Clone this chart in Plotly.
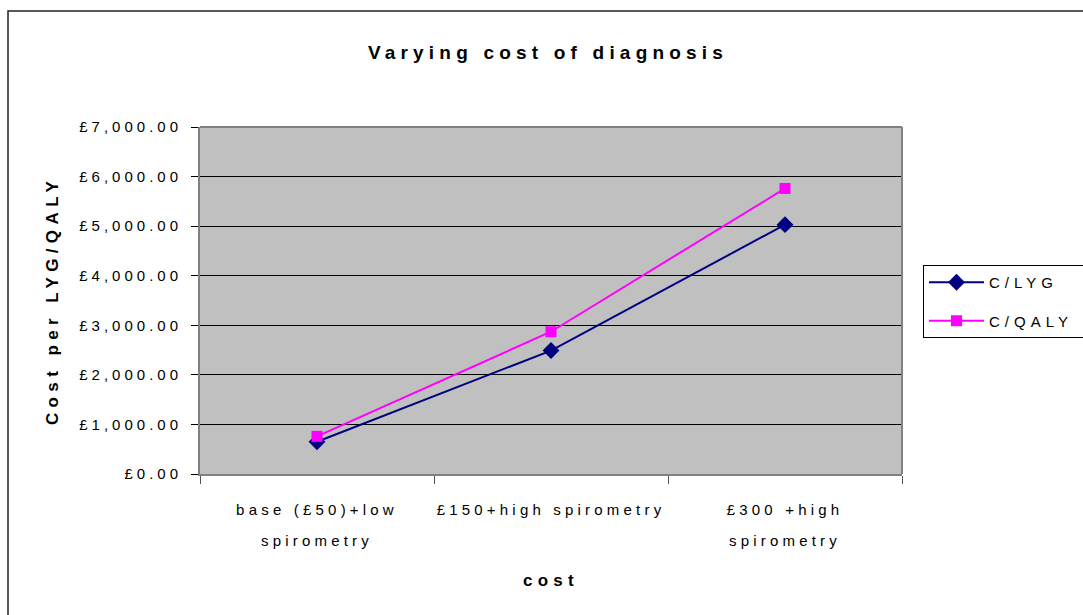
import plotly.graph_objects as go

categories = ["base (£50)+low<br>spirometry", "£150+high spirometry", "£300 +high<br>spirometry"]
c_lyg = [650, 2490, 5030]
c_qaly = [760, 2870, 5760]
y_ticks = [0, 1000, 2000, 3000, 4000, 5000, 6000, 7000]
y_tick_labels = ["£0.00", "£1,000.00", "£2,000.00", "£3,000.00",
                 "£4,000.00", "£5,000.00", "£6,000.00", "£7,000.00"]

FONT = "Liberation Sans, Arial, sans-serif"

fig = go.Figure()
fig.add_trace(go.Scatter(
    x=categories, y=c_lyg, name="C/LYG", mode="lines+markers",
    line=dict(color="#000080", width=2),
    marker=dict(symbol="diamond", size=13, color="#000080"),
    legendgroup="a",
))
fig.add_trace(go.Scatter(
    x=categories, y=c_qaly, name="C/QALY", mode="lines+markers",
    line=dict(color="#FF00FF", width=2),
    marker=dict(symbol="square", size=11, color="#FF00FF"),
    legendgroup="b",
))

fig.update_layout(
    width=1083, height=615,
    margin=dict(l=200, r=181, t=127, b=141),
    paper_bgcolor="white",
    plot_bgcolor="#C0C0C0",
    font=dict(family=FONT, size=15, color="black"),
    title=dict(text="<b>Varying cost of diagnosis</b>", x=0.506, xref="container",
               y=1 - 52 / 615, yref="container", xanchor="center", yanchor="middle",
               font=dict(size=19, family=FONT, color="black")),
    showlegend=True,
    legend=dict(x=(923 - 200) / 702, xanchor="left", y=(474 - 265) / 347, yanchor="top",
                bordercolor="black", borderwidth=1, bgcolor="white",
                font=dict(size=15, family=FONT), itemwidth=55, tracegroupgap=16),
    xaxis=dict(
        type="category", range=[-0.5, 2.5], tickson="boundaries", ticks="outside", ticklen=8,
        tickcolor="#555555", showline=True, linecolor="#808080", linewidth=2,
        showgrid=False, zeroline=False, mirror=False,
        tickfont=dict(size=15, family=FONT),
        ticklabelstandoff=21,
        title=dict(text="<b>cost</b>", standoff=38, font=dict(size=17, family=FONT)),
        fixedrange=True,
    ),
    yaxis=dict(
        range=[0, 7000], tickmode="array", tickvals=y_ticks, ticktext=y_tick_labels,
        ticks="outside", ticklen=7, tickcolor="black",
        showline=True, linecolor="#808080", linewidth=2,
        showgrid=True, gridcolor="black", gridwidth=1, zeroline=False,
        tickfont=dict(size=15, family=FONT),
        ticklabelstandoff=6,
        title=dict(text="<b>Cost per LYG/QALY</b>", standoff=52, font=dict(size=17, family=FONT)),
        fixedrange=True,
    ),
    shapes=[
        dict(type="rect", xref="paper", yref="paper",
             x0=(8 - 200) / 702, x1=2.0, y0=-1.0, y1=(474 - 11) / 347,
             line=dict(color="#222222", width=1.5), fillcolor="rgba(0,0,0,0)", layer="below"),
        dict(type="line", xref="paper", yref="paper", x0=0, x1=1, y0=1, y1=1,
             line=dict(color="#808080", width=2)),
        dict(type="line", xref="paper", yref="paper", x0=1, x1=1, y0=0, y1=1,
             line=dict(color="#808080", width=2)),
    ],
)

post = """
document.body.style.margin = '0';
document.body.style.padding = '0';
var gd = document.getElementById('{plot_id}');
function fix(){
  function ls(sel, v){ gd.querySelectorAll(sel).forEach(function(t){ t.style.letterSpacing = v; }); }
  ls('.gtitle', '5.2px'); ls('.xtick text', '4.2px'); ls('.ytick text', '4px');
  ls('.xtitle', '5.3px'); ls('.ytitle', '5.4px'); ls('.legendtext', '5px');
  gd.querySelectorAll('.xtick text tspan.line').forEach(function(t){
    var d = t.getAttribute('dy');
    if (d && d !== '0em' && d !== '0') t.setAttribute('dy', '2.07em');
  });
  var leg = gd.querySelector('.legend');
  if (leg) {
    var bg = leg.querySelector('rect.bg');
    if (bg) bg.setAttribute('width', 160);
    document.querySelectorAll('clipPath[id^="legend"] rect').forEach(function(r){ r.setAttribute('width', 160); });
  }
}
fix();
if (gd.on) gd.on('plotly_afterplot', fix);
setTimeout(fix, 50);
"""

fig.write_html("out.html", post_script=post, config={"displayModeBar": False})
